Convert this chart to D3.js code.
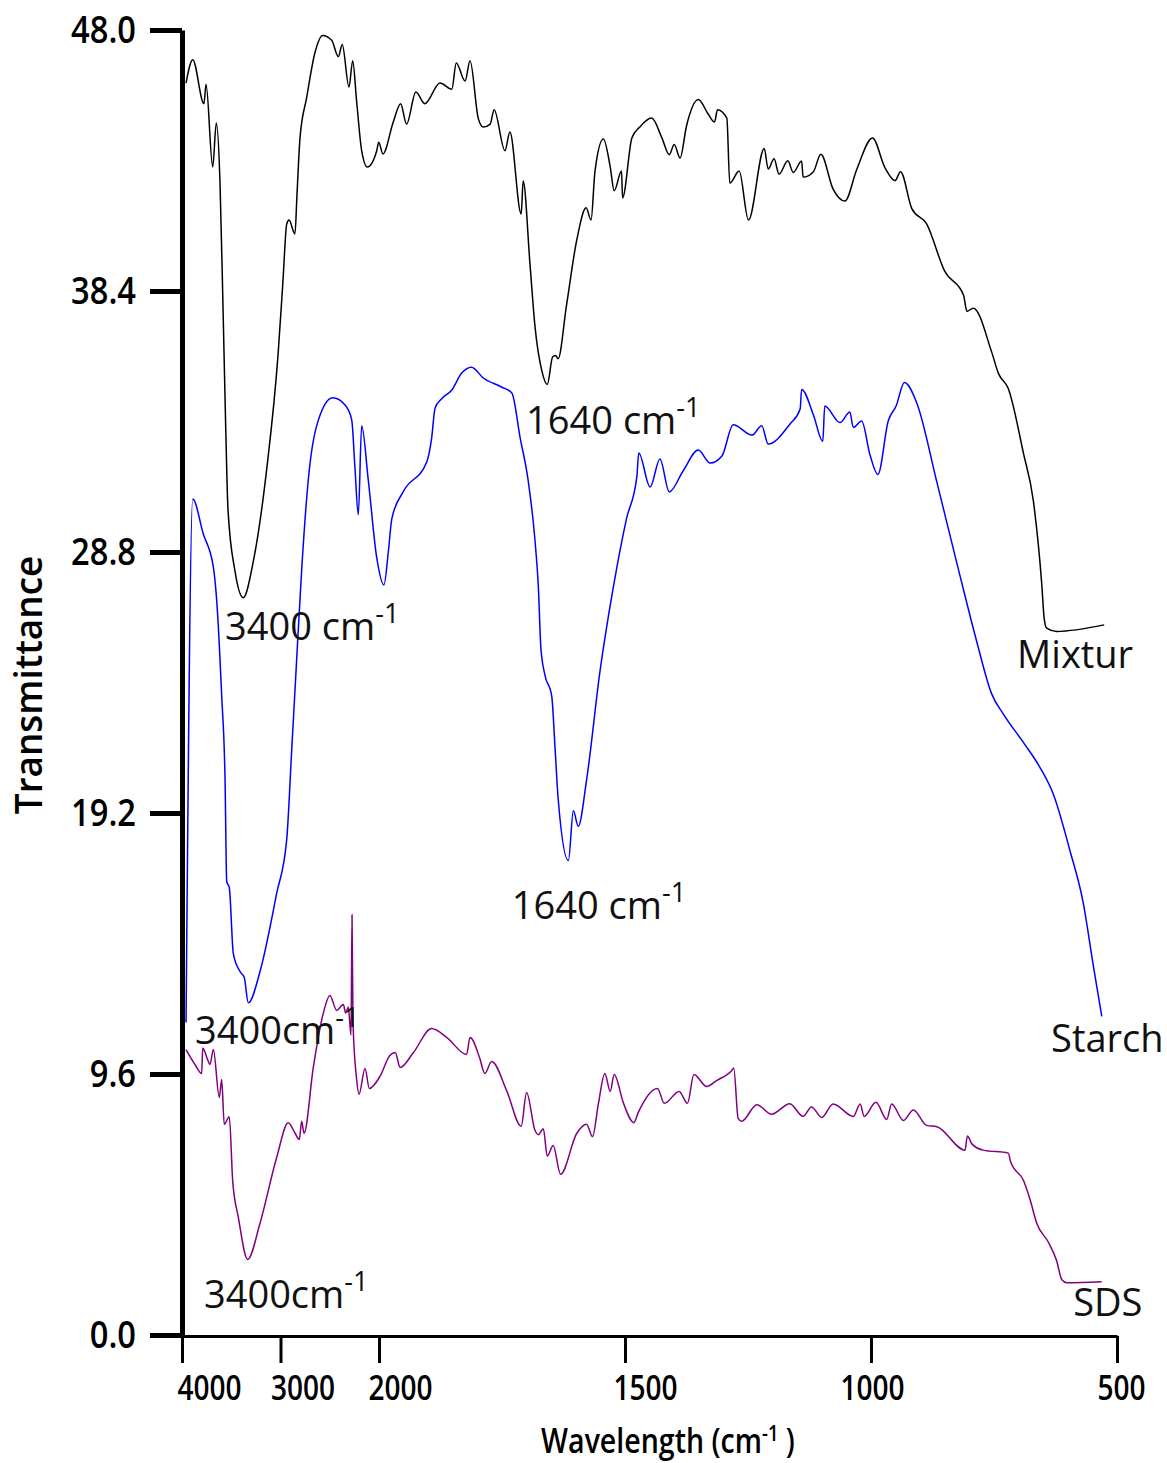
<!DOCTYPE html>
<html>
<head>
<meta charset="utf-8">
<script src="https://cdn.jsdelivr.net/npm/d3@7"></script>
<style>
  body { margin: 0; background: #fff; }
  svg { display: block; }
</style>
</head>
<body>
<svg id="chart" width="1167" height="1463"></svg>
<script>
// ---------------- DATA ----------------
// [wavenumber (cm-1), transmittance]
const mixtur = [[3959,46.05],[3891,46.91],[3777,45.29],[3756,46.00],[3688,42.96],[3652,44.58],[3614,42.37],[3584,37.85],[3556,33.36],[3533,30.35],[3462,28.10],[3378,27.12],[3279,28.40],[3140,31.85],[3025,36.05],[2975,38.77],[2937,40.86],[2914,41.01],[2853,40.50],[2833,41.91],[2802,44.03],[2734,45.52],[2650,47.17],[2572,47.80],[2480,47.62],[2413,47.02],[2373,47.47],[2305,45.90],[2267,46.87],[2227,45.37],[2176,43.56],[2119,42.96],[2023,43.56],[2003,43.87],[1992,43.44],[1971,44.62],[1956,45.29],[1944,44.54],[1925,45.72],[1907,45.29],[1876,46.05],[1852,45.82],[1843,46.79],[1825,46.12],[1815,46.87],[1798,44.73],[1788,44.43],[1774,44.54],[1766,45.07],[1744,43.56],[1734,44.25],[1711,41.23],[1707,42.45],[1693,39.36],[1683,37.11],[1669,35.46],[1658,34.96],[1647,35.98],[1641,36.03],[1636,35.91],[1619,37.86],[1598,40.28],[1579,41.46],[1569,41.01],[1561,42.81],[1544,43.99],[1530,42.96],[1522,42.09],[1507,42.81],[1505,41.82],[1486,44.03],[1470,44.43],[1446,44.76],[1425,44.03],[1410,43.41],[1400,43.79],[1388,43.29],[1375,44.47],[1351,45.44],[1331,44.91],[1318,44.62],[1312,45.07],[1293,44.76],[1287,42.37],[1268,42.81],[1249,41.01],[1217,43.64],[1209,42.89],[1197,43.26],[1187,42.70],[1169,43.19],[1158,42.76],[1141,43.18],[1138,42.59],[1117,42.79],[1102,43.43],[1077,42.15],[1053,41.71],[1029,42.87],[997,44.03],[972,42.95],[951,42.46],[940,42.79],[917,41.43],[887,40.87],[850,39.12],[812,38.25],[805,37.65],[792,37.77],[755,36.17],[741,35.37],[721,34.81],[690,32.42],[670,30.68],[653,27.63],[648,26.36],[643,26.00],[623,25.88],[526,26.12]];

const starch = [[3959,11.49],[3891,30.75],[3784,29.46],[3682,28.25],[3648,27.03],[3597,23.51],[3563,20.43],[3546,16.68],[3520,16.46],[3479,14.03],[3411,13.37],[3368,13.15],[3327,12.22],[3208,13.37],[3039,16.24],[2937,18.22],[2886,21.53],[2836,24.84],[2785,28.15],[2718,31.45],[2633,33.44],[2470,34.47],[2345,34.21],[2277,33.66],[2244,31.89],[2210,30.17],[2176,33.44],[2109,31.45],[2023,28.59],[1990,27.59],[1981,28.81],[1974,30.02],[1951,31.01],[1903,32.11],[1893,32.99],[1886,34.10],[1873,34.43],[1852,34.76],[1832,35.38],[1812,35.60],[1788,35.20],[1751,34.87],[1730,34.65],[1713,32.99],[1697,31.45],[1683,29.24],[1676,27.48],[1671,25.28],[1663,24.29],[1649,23.51],[1642,21.53],[1636,19.76],[1615,17.45],[1605,19.28],[1595,18.71],[1578,20.43],[1551,24.39],[1524,27.48],[1497,30.02],[1476,31.56],[1472,32.44],[1449,31.19],[1429,32.22],[1410,31.01],[1382,31.78],[1351,32.55],[1327,32.07],[1303,32.33],[1280,33.48],[1242,33.10],[1222,33.44],[1209,32.77],[1165,33.50],[1144,34.06],[1141,34.78],[1117,33.84],[1098,32.87],[1094,34.17],[1063,33.56],[1043,33.95],[1036,33.38],[1019,33.62],[1002,32.37],[986,31.65],[965,33.62],[949,34.17],[932,35.03],[907,34.28],[866,31.36],[826,28.43],[785,25.50],[755,23.59],[731,22.84],[690,21.79],[657,20.89],[629,19.87],[596,17.84],[569,15.93],[548,13.57],[531,11.72]];

const sds = [[3959,10.50],[3868,9.95],[3800,9.62],[3790,10.56],[3746,10.19],[3716,9.95],[3682,10.50],[3621,8.74],[3597,9.40],[3571,7.75],[3520,8.03],[3485,5.65],[3428,4.33],[3333,2.78],[3208,4.11],[3039,6.53],[2921,7.81],[2853,7.43],[2809,7.19],[2785,7.86],[2761,7.42],[2667,9.84],[2566,11.83],[2498,12.49],[2430,11.94],[2362,12.16],[2338,11.84],[2312,12.06],[2284,11.03],[2274,15.46],[2264,11.50],[2227,9.40],[2203,8.85],[2142,9.80],[2098,9.07],[1998,9.51],[1978,10.28],[1967,10.39],[1957,9.84],[1930,10.39],[1893,11.27],[1862,10.94],[1822,10.32],[1815,10.94],[1795,10.17],[1785,9.62],[1771,10.06],[1740,8.96],[1711,7.68],[1700,8.92],[1683,7.53],[1676,7.37],[1666,7.59],[1658,6.58],[1646,6.97],[1631,5.91],[1598,7.42],[1578,7.75],[1566,7.30],[1554,8.52],[1541,9.62],[1530,8.96],[1522,9.58],[1503,8.52],[1482,7.81],[1473,8.19],[1434,9.07],[1420,8.52],[1390,8.96],[1373,8.52],[1360,9.58],[1334,9.14],[1314,9.36],[1283,9.73],[1279,9.82],[1270,7.97],[1263,7.86],[1232,8.47],[1202,8.12],[1165,8.51],[1138,8.04],[1121,8.39],[1100,8.00],[1077,8.50],[1036,8.04],[1022,8.50],[1014,8.04],[990,8.56],[968,7.93],[958,8.50],[934,7.89],[914,8.28],[887,7.71],[866,7.66],[809,6.80],[804,7.32],[795,7.03],[772,6.80],[721,6.69],[716,6.36],[690,5.68],[677,5.00],[663,4.10],[640,3.43],[623,2.75],[612,2.03],[602,1.92],[531,1.96]];

const seriesNames = ["Mixtur", "Starch", "SDS"];
const seriesColors = ["#000000", "#0000ff", "#800080"];
const xTickValues = [4000, 3000, 2000, 1500, 1000, 500];
const yTickValues = [0, 9.6, 19.2, 28.8, 38.4, 48.0];
// peak annotations: [wavenumber, transmittance, main text, superscript]
const peakLabels = [
  [3563, 25.56, "3400 cm", "-1"],
  [1701, 33.14, "1640 cm", "-1"],
  [1730, 15.30, "1640 cm", "-1"],
  [3868, 10.70, "3400cm", "-1"],
  [3777, 0.99, "3400cm", "-1"]
];
// series name labels: [wavenumber, transmittance]
const nameLabelPos = [[703, 24.53], [634, 10.41], [589, 0.70]];

// ---------------- CHART ----------------
const svg = d3.select("#chart");
const axisFont = "'Open Sans', 'Noto Sans', sans-serif";
const annotFont = "'Open Sans', 'Noto Sans', sans-serif";

// broken FTIR axis: 4000-2000 compressed, 2000-500 expanded
const x = d3.scaleLinear().domain([4000, 2000, 500]).range([182, 379, 1117]);
const y = d3.scaleLinear().domain([0, 48]).range([1335, 30]);

const line = d3.line()
  .x(d => x(d[0]))
  .y(d => y(d[1]))
  .curve(d3.curveMonotoneX);

[mixtur, starch, sds].forEach((s, i) => {
  svg.append("path")
    .datum(s)
    .attr("fill", "none")
    .attr("stroke", seriesColors[i])
    .attr("stroke-width", 1.5)
    .attr("stroke-linejoin", "round")
    .attr("d", line);
});

// Y axis
const yk = 0.86;   // horizontal condensing of tick labels
const gy = svg.append("g")
  .attr("transform", "translate(182,0)")
  .call(d3.axisLeft(y).tickValues(yTickValues).tickFormat(d3.format(".1f"))
    .tickSize(32).tickSizeOuter(0).tickPadding(14));
gy.select(".domain").attr("stroke", "#000").attr("stroke-width", 5);
gy.selectAll(".tick line").attr("stroke", "#000").attr("stroke-width", 5);
gy.selectAll(".tick text")
  .attr("font-family", axisFont).attr("font-size", 38).attr("font-weight", 600)
  .attr("fill", "#000")
  .attr("x", -46 / yk)
  .attr("transform", `scale(${yk},1)`);

// X axis
const xk = 0.8;
const xNudge = {4000: 27, 3000: 22, 2000: 21, 1500: 20, 1000: 1, 500: 4};
const gx = svg.append("g")
  .attr("transform", "translate(0,1336)")
  .call(d3.axisBottom(x).tickValues(xTickValues).tickFormat(d3.format("d"))
    .tickSize(27).tickSizeOuter(0).tickPadding(12));
gx.select(".domain").attr("stroke", "#000").attr("stroke-width", 3);
gx.selectAll(".tick line").attr("stroke", "#000").attr("stroke-width", 3);
gx.selectAll(".tick text")
  .attr("font-family", axisFont).attr("font-size", 35).attr("font-weight", 600)
  .attr("fill", "#000")
  .attr("dx", d => (xNudge[d] || 0) / xk)
  .attr("transform", `scale(${xk},1)`);

// Axis titles
const xt = svg.append("text")
  .attr("transform", "translate(668,1453) scale(0.84,1)")
  .attr("text-anchor", "middle")
  .attr("font-family", axisFont).attr("font-size", 34).attr("font-weight", 600);
xt.append("tspan").text("Wavelength (cm");
xt.append("tspan").attr("font-size", 22).attr("dy", -12).text("-1");
xt.append("tspan").attr("dy", 12).text(" )");

svg.append("text")
  .attr("transform", "translate(42,685) rotate(-90) scale(0.97,1)")
  .attr("text-anchor", "middle")
  .attr("font-family", axisFont).attr("font-size", 38).attr("font-weight", 600)
  .text("Transmittance");

// Peak annotations
peakLabels.forEach(p => {
  const t = svg.append("text")
    .attr("x", x(p[0])).attr("y", y(p[1]))
    .attr("font-family", annotFont).attr("font-size", 38).attr("fill", "#111");
  t.append("tspan").text(p[2]);
  t.append("tspan").attr("font-size", 27).attr("dy", -17).text(p[3]);
});

// Series names
seriesNames.forEach((n, i) => {
  svg.append("text")
    .attr("x", x(nameLabelPos[i][0])).attr("y", y(nameLabelPos[i][1]))
    .attr("font-family", annotFont).attr("font-size", 38).attr("fill", "#111")
    .text(n);
});
</script>
</body>
</html>
